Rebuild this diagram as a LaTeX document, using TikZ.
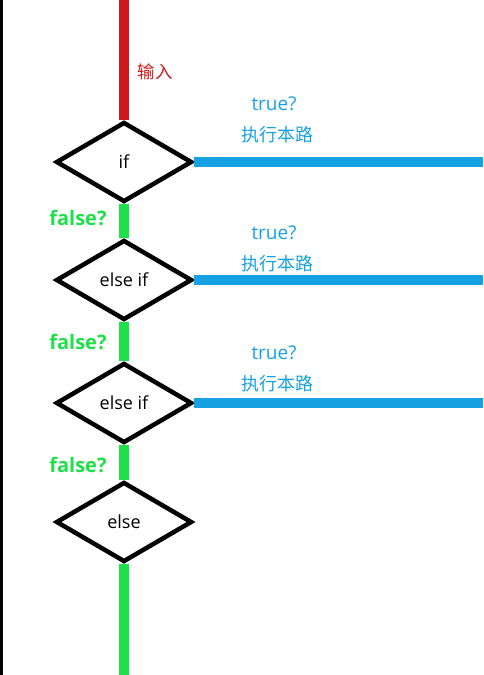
\documentclass[tikz,border=0pt]{standalone}
\usepackage{fontspec}
\setmainfont{Open Sans}
\newfontfamily\cjk{Noto Sans CJK SC}
\usetikzlibrary{shapes.geometric}
\definecolor{inred}{HTML}{D0181E}
\definecolor{trueblue}{HTML}{16A2E2}
\definecolor{falsegreen}{HTML}{1EE04A}
\tikzset{
  x=1pt,y=-1pt,
  decision/.style={diamond,draw=black,line width=4.5pt,fill=white,aspect=1.7,
    minimum width=136pt,minimum height=80pt,inner sep=0pt,font=\fontsize{18}{20}\selectfont},
  redline/.style={draw=inred,line width=10pt},
  greenline/.style={draw=falsegreen,line width=10pt},
  blueline/.style={draw=trueblue,line width=10pt},
  redlab/.style={text=inred,font=\cjk\fontsize{17.5}{19}\selectfont},
  bluelab/.style={text=trueblue,font=\fontsize{19}{21}\selectfont},
  bluecjk/.style={text=trueblue,font=\cjk\fontsize{18}{20}\selectfont},
  greenlab/.style={text=falsegreen,font=\fontsize{20}{22}\selectfont\bfseries},
}
\begin{document}
\begin{tikzpicture}
\useasboundingbox (0,0) rectangle (483,675);
\fill[black] (0,0) rectangle (2.5,675);
% coordinates
\coordinate (top) at (124,0);
\coordinate (bot) at (124,675);
\coordinate (r1) at (483,162);
\coordinate (r2) at (483,280);
\coordinate (r3) at (483,403);
% decisions
\node[decision] (d1) at (124,162) {if};
\node[decision] (d2) at (124,280) {else if};
\node[decision] (d3) at (124,403) {else if};
\node[decision] (d4) at (124,522) {else};
% connectors
\path[redline] (top) -- (d1.north);
\path[greenline] (d1.south) -- (d2.north);
\path[greenline] (d2.south) -- (d3.north);
\path[greenline] (d3.south) -- (d4.north);
\path[greenline] (d4.south) -- (bot);
\path[blueline] (d1.east) -- (r1);
\path[blueline] (d2.east) -- (r2);
\path[blueline] (d3.east) -- (r3);
% labels
\node[redlab] (lin) at (155,72) {输入};
\node[bluelab] (t1) at (274,104) {true?};
\node[bluecjk] (x1) at (277,135) {执行本路};
\node[bluelab] (t2) at (274,233) {true?};
\node[bluecjk] (x2) at (277,264) {执行本路};
\node[bluelab] (t3) at (274,353) {true?};
\node[bluecjk] (x3) at (277,384) {执行本路};
\node[greenlab] (f1) at (78,218) {false?};
\node[greenlab] (f2) at (78,342) {false?};
\node[greenlab] (f3) at (78,465) {false?};
\end{tikzpicture}
\end{document}
